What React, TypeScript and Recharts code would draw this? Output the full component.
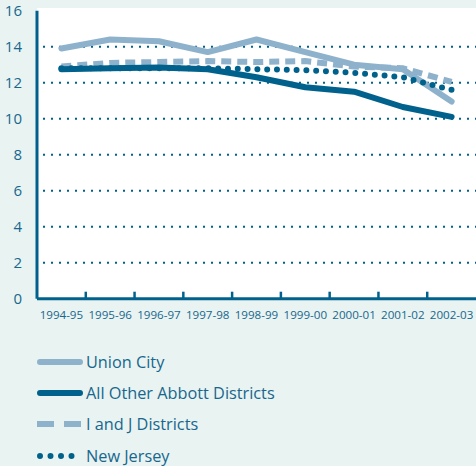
import React from "react";
import { LineChart, Line, XAxis, YAxis, CartesianGrid } from "recharts";

const years = [
  "1994-95", "1995-96", "1996-97", "1997-98", "1998-99",
  "1999-00", "2000-01", "2001-02", "2002-03",
];
const unionCity = [13.9, 14.4, 14.3, 13.7, 14.4, 13.7, 13.0, 12.75, 10.95];
const otherAbbott = [12.75, 12.8, 12.85, 12.75, 12.3, 11.75, 11.5, 10.65, 10.1];
const iAndJ = [12.9, 13.1, 13.15, 13.2, 13.15, 13.2, 12.9, 12.8, 12.05];
const newJersey = [12.8, 12.8, 12.8, 12.8, 12.75, 12.7, 12.55, 12.3, 11.6];
const yTicks = [0, 2, 4, 6, 8, 10, 12, 14, 16];
const gridValues = [2, 4, 6, 8, 10, 12, 14];

const LIGHT = "#8fb2cc";
const DARK = "#00628c";
const TEXT = "#17678e";
const BG = "#e9f3f1";
const FONT = "'Open Sans', 'Noto Sans', sans-serif";

const W = 476;
const H = 335;
const M = { top: 10.7, right: 0, left: 0, bottom: 6.3 };
const Y_W = 37;
const X_H = 30;
const PLOT_W = W - Y_W - M.left - M.right;
const PLOT_BOTTOM = H - M.bottom - X_H;

const data = years.map((year, i) => ({
  year,
  unionCity: unionCity[i],
  otherAbbott: otherAbbott[i],
  iAndJ: iAndJ[i],
  newJersey: newJersey[i],
}));

const series = [
  { key: "unionCity", label: "Union City", color: LIGHT, dash: undefined, cap: "round" },
  { key: "otherAbbott", label: "All Other Abbott Districts", color: DARK, dash: undefined, cap: "round" },
  { key: "iAndJ", label: "I and J Districts", color: LIGHT, dash: "17 10", cap: "butt" },
  { key: "newJersey", label: "New Jersey", color: DARK, dash: "0 10.5", cap: "round" },
];

const step = PLOT_W / years.length;

function YearTick(props: any) {
  const { x, payload, index } = props;
  return (
    <g>
      {index < years.length - 1 && (
        <line
          x1={x + step / 2}
          x2={x + step / 2}
          y1={PLOT_BOTTOM}
          y2={PLOT_BOTTOM - 7}
          stroke={DARK}
          strokeWidth={2.5}
        />
      )}
      <text
        x={x}
        y={PLOT_BOTTOM + 20}
        textAnchor="middle"
        fill={TEXT}
        fontSize={11.6}
        fontFamily={FONT}
      >
        {payload.value}
      </text>
    </g>
  );
}

function LegendBox() {
  return (
    <div style={{ position: "absolute", left: 37, top: 346, fontFamily: FONT }}>
      {series.map((s) => (
        <div key={s.key} style={{ display: "flex", alignItems: "center", height: 31.3 }}>
          <svg width={46} height={12}>
            <line
              x1={s.cap === "round" ? 3 : 0}
              x2={s.cap === "round" ? 43 : 46}
              y1={6}
              y2={6}
              stroke={s.color}
              strokeWidth={6}
              strokeLinecap={s.cap as any}
              strokeDasharray={s.dash}
            />
          </svg>
          <span style={{ color: TEXT, fontSize: 16.3, marginLeft: 3, lineHeight: "20px" }}>{s.label}</span>
        </div>
      ))}
    </div>
  );
}

export default function App() {
  return (
    <div style={{ position: "fixed", left: 0, top: 0, width: 476, height: 466, background: BG, overflow: "hidden" }}>
      <div style={{ position: "absolute", left: Y_W, top: 8, width: W - Y_W, height: PLOT_BOTTOM - 8, background: "#fff" }} />
      <div style={{ position: "absolute", left: 0, top: 0 }}>
        <LineChart width={W} height={H} data={data} margin={M}>
          <CartesianGrid
            vertical={false}
            horizontalValues={gridValues}
            stroke={DARK}
            strokeWidth={2}
            strokeDasharray="0 6 2 0"
          />
          <XAxis
            dataKey="year"
            padding={{ left: step / 2, right: step / 2 }}
            height={X_H}
            axisLine={{ stroke: DARK, strokeWidth: 3 }}
            tickLine={false}
            tick={<YearTick />}
            interval={0}
          />
          <YAxis
            width={Y_W}
            domain={[0, 16]}
            ticks={yTicks}
            interval={0}
            axisLine={{ stroke: DARK, strokeWidth: 3 }}
            tickLine={false}
            tickMargin={9}
            tick={{ fill: TEXT, fontSize: 15, fontFamily: FONT }}
          />
          <Line
            dataKey="iAndJ"
            type="linear"
            stroke={LIGHT}
            strokeWidth={6}
            strokeDasharray="10 6"
            dot={false}
            isAnimationActive={false}
          />
          <Line
            dataKey="unionCity"
            type="linear"
            stroke={LIGHT}
            strokeWidth={6}
            strokeLinejoin="round"
            strokeLinecap="round"
            dot={false}
            isAnimationActive={false}
          />
          <Line
            dataKey="newJersey"
            type="linear"
            stroke={DARK}
            strokeWidth={6}
            strokeLinecap="round"
            strokeDasharray="0 9.8"
            dot={false}
            isAnimationActive={false}
          />
          <Line
            dataKey="otherAbbott"
            type="linear"
            stroke={DARK}
            strokeWidth={6}
            strokeLinejoin="round"
            strokeLinecap="round"
            dot={false}
            isAnimationActive={false}
          />
        </LineChart>
      </div>
      <LegendBox />
    </div>
  );
}
